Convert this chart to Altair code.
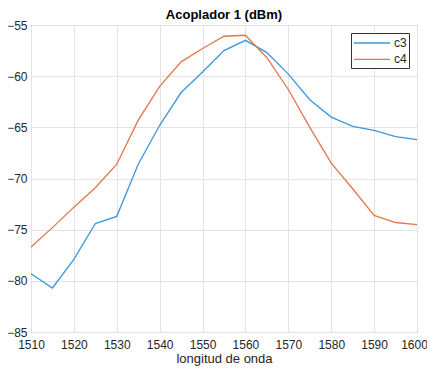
import altair as alt
import pandas as pd

wavelength = [1510, 1515, 1520, 1525, 1530, 1535, 1540, 1545, 1550, 1555,
              1560, 1565, 1570, 1575, 1580, 1585, 1590, 1595, 1600]
c3 = [-79.3, -80.7, -77.9, -74.4, -73.7, -68.6, -64.8, -61.6, -59.6, -57.5,
      -56.5, -57.7, -59.8, -62.3, -64.0, -64.9, -65.3, -65.9, -66.2]
c4 = [-76.7, -74.8, -72.8, -70.9, -68.6, -64.3, -61.0, -58.6, -57.3, -56.1,
      -56.0, -58.2, -61.3, -65.0, -68.5, -71.0, -73.6, -74.3, -74.5]
series = ["c3", "c4"]
colors = ["#3d97d8", "#e4764a"]

df = pd.concat([
    pd.DataFrame({"x": wavelength, "y": c3, "s": "c3"}),
    pd.DataFrame({"x": wavelength, "y": c4, "s": "c4"}),
])

font = "Liberation Sans"

chart = alt.Chart(df).mark_line(strokeWidth=1.3).encode(
    x=alt.X("x:Q", scale=alt.Scale(domain=[1510, 1600], nice=False, zero=False),
            axis=alt.Axis(title="longitud de onda", values=list(range(1510, 1601, 10)),
                          format="d",
                          grid=True, gridColor="#e3e3e3", domain=False, ticks=False,
                          labelFont=font, labelFontSize=12, labelColor="#262626",
                          labelPadding=7,
                          labelOffset={"condition": {"test": "datum.value == 1600", "value": -3},
                                       "value": 0},
                          titleFont=font, titleFontSize=13,
                          titleFontWeight="normal", titleColor="#262626", titlePadding=2,
                          labelFlush=False)),
    y=alt.Y("y:Q", scale=alt.Scale(domain=[-85, -55], nice=False, zero=False),
            axis=alt.Axis(title=None, values=list(range(-85, -54, 5)),
                          grid=True, gridColor="#e3e3e3", domain=False, ticks=False,
                          labelFont=font, labelFontSize=12, labelColor="#262626",
                          labelPadding=4)),
    color=alt.Color("s:N", scale=alt.Scale(domain=series, range=colors),
                    legend=alt.Legend(title=None, orient="none", legendX=320, legendY=8,
                                      symbolType="M-1,0H4.143", symbolSize=196,
                                      symbolStrokeWidth=1.3,
                                      labelFont=font, labelFontSize=12,
                                      labelColor="#262626", labelOffset=25,
                                      strokeColor="#333333", fillColor="white",
                                      padding=2, rowPadding=2.4)),
).properties(
    width=386, height=307,
    title=alt.TitleParams("Acoplador 1 (dBm)", font=font, fontSize=13,
                          fontWeight="bold", color="#000000", offset=4, dy=7,
                          frame="group"),
    autosize=alt.AutoSizeParams(type="none"),
    padding={"left": 23, "top": 17, "right": 10, "bottom": 35},
).configure_view(stroke="#404040", strokeWidth=1)

chart.save("out.html", embed_options={"renderer": "svg", "actions": False})
